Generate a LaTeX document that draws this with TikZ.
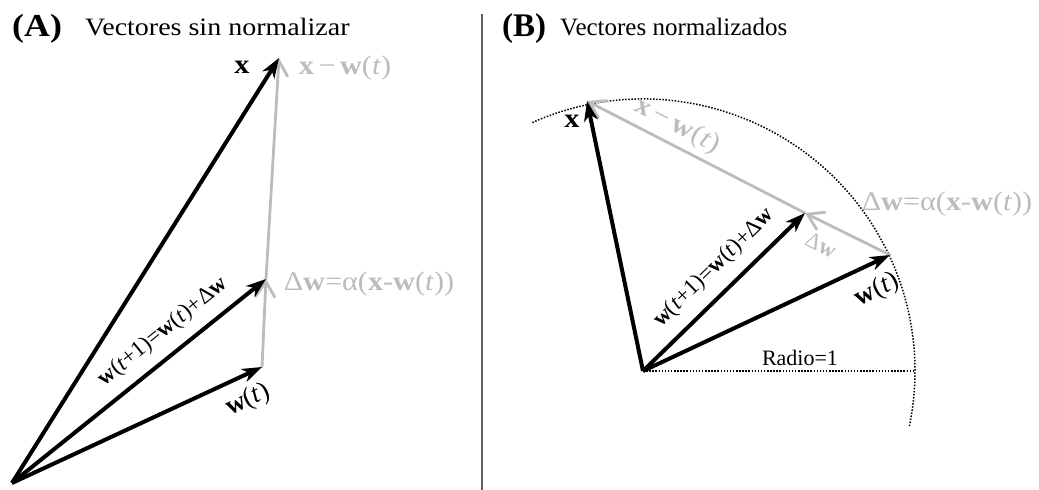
\documentclass[tikz,border=0pt]{standalone}
\usepackage{fontspec}
\setmainfont[FakeStretch=1.12]{Liberation Serif}
\newfontfamily\plainserif{Liberation Serif}
\usetikzlibrary{arrows.meta}
\definecolor{lgray}{RGB}{188,188,188}
\definecolor{sepgray}{RGB}{95,95,95}
\tikzset{
  vec/.style={line width=4pt, draw=black, -{Stealth[length=20pt,width=14pt,inset=6pt]}},
  diff/.style={line width=2.8pt, draw=lgray, line cap=round, -{Straight Barb[length=15pt,width=19pt,line cap=round]}},
  dotline/.style={line width=1.5pt, dash pattern=on 1.5pt off 1.6pt},
  lbl/.style={inner sep=0pt, font=\fontsize{27}{32}\selectfont},
  rlbl/.style={inner sep=0pt, font=\plainserif\fontsize{23}{28}\selectfont},
  glbl/.style={lbl, text=lgray},
  ttl/.style={inner sep=0pt, anchor=base west, font=\fontsize{25}{30}\selectfont},
}
\newcommand{\bw}{\textbf{w}}
\newcommand{\bx}{\textbf{x}}
\begin{document}
\begin{tikzpicture}[x=1pt,y=-1pt]
\useasboundingbox (0,0) rectangle (1039,490);
% titles
\node[ttl, font=\fontsize{32}{36}\selectfont\bfseries] (tA) at (12,36) {(A)};
\node[ttl] (tA2) at (85,35) {Vectores sin normalizar};
\node[ttl, font=\plainserif\fontsize{33}{36}\selectfont\bfseries] (tB) at (502,36) {(B)};
\node[ttl, font=\plainserif\fontsize{25}{30}\selectfont] (tB2) at (560,35) {Vectores normalizados};
% separator
\coordinate (s1) at (482,14);
\coordinate (s2) at (482,490);
\draw[sepgray, line width=1.4pt] (s1) -- (s2);
% ---------- Panel A ----------
\coordinate (OA) at (12,483);
\coordinate (XA) at (279,58);
\coordinate (WA) at (262,367);
\coordinate (W1A) at (266,279);
\draw[diff] (WA) -- (W1A);
\draw[diff] (W1A) -- (XA);
\draw[vec] (OA) -- (XA);
\draw[vec] (OA) -- (WA);
\draw[vec] (OA) -- (W1A);
\node[lbl] (lxA) at (242,67) {\bx};
\node[glbl] (lxwA) at (345,68) {\bx\,−\,\bw(\textit{t})};
\node[glbl] (ldA) at (369,284) {Δ\bw=α(\bx-\bw(\textit{t}))};
\node[rlbl, rotate=25, font=\plainserif\fontsize{27}{32}\selectfont] (lwA) at (248,400) {\bw(\textit{t})};
\node[rlbl, rotate=39] (lw1A) at (163,332) {\bw(\textit{t}+1)=\bw(\textit{t})+Δ\bw};
% ---------- Panel B ----------
\coordinate (OB) at (643,371);
\coordinate (XB) at (587,101);
\coordinate (WB) at (890,255);
\coordinate (W1B) at (805,213);
\coordinate (RB) at (915,371);
\draw[dotline] (OB) ++(-114:272) arc[start angle=-114, end angle=12, radius=272];
\draw[dotline] (OB) -- (RB);
\draw[diff] (WB) -- (W1B);
\draw[diff] (W1B) -- (XB);
\draw[vec] (OB) -- (XB);
\draw[vec] (OB) -- (WB);
\draw[vec] (OB) -- (W1B);
\node[lbl] (lxB) at (572,121) {\bx};
\node[glbl, rotate=-27] (lxwB) at (677,126) {\bx\,−\,\bw(\textit{t})};
\node[glbl] (ldB) at (947,204) {Δ\bw=α(\bx-\bw(\textit{t}))};
\node[rlbl, text=lgray, rotate=-27] (ldwB) at (821,245) {Δ\bw};
\node[rlbl, rotate=27, font=\plainserif\fontsize{27}{32}\selectfont] (lwB) at (877,290) {\bw(\textit{t})};
\node[rlbl, rotate=44.5] (lw1B) at (714,268) {\bw(\textit{t}+1)=\bw(\textit{t})+Δ\bw};
\node[rlbl, font=\plainserif\fontsize{22}{26}\selectfont] (lr) at (800,358) {Radio=1};
\end{tikzpicture}
\end{document}
